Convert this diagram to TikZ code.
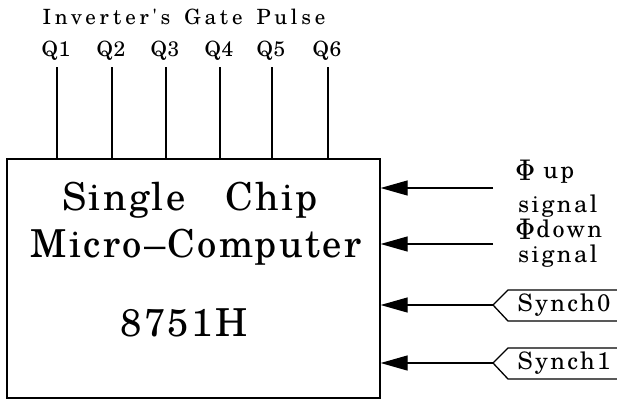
\documentclass[tikz,border=0pt]{standalone}
\usepackage{fontspec}
\usepackage{amsmath}
\usetikzlibrary{arrows.meta}
\newfontfamily\bigf[LetterSpace=6]{texgyreschola-regular.otf}
\newfontfamily\titlef[LetterSpace=18]{texgyreschola-regular.otf}
\newfontfamily\qf[LetterSpace=4]{texgyreschola-regular.otf}
\newfontfamily\smallf[LetterSpace=10]{texgyreschola-regular.otf}
\tikzset{
  wire/.style={line width=1.3pt},
  inarrow/.style={wire,-{Triangle[length=27pt,width=15pt]}},
  chiptext/.style={font=\bigf\fontsize{38.5}{44}\selectfont, inner sep=0pt},
  titlelbl/.style={font=\titlef\fontsize{21}{26}\selectfont, inner sep=0pt},
  qlbl/.style={font=\qf\fontsize{21}{26}\selectfont, inner sep=0pt},
  lbl/.style={font=\smallf\fontsize{24}{28}\selectfont, inner sep=0pt},
  chipbox/.style={draw, wire, minimum width=373pt, minimum height=239pt, inner sep=0pt},
}
\newcommand{\bigphi}{\raisebox{-2pt}{\scalebox{1.0}[1.2]{$\boldsymbol{\Phi}$}}}
\begin{document}
\begin{tikzpicture}[x=1pt,y=-1pt]
\useasboundingbox (0,0) rectangle (617,404);
\node[chipbox] (chip) at (193.5,278.5) {};
\node[chiptext] (t1) at (190,200) {Single\hspace{40pt}Chip};
\node[chiptext] (t2) at (196,247) {Micro\textendash Computer};
\node[chiptext] (t3) at (184,323) {8751H};
\node[titlelbl] (title) at (184,17) {Inverter's\hspace{14pt}Gate\hspace{14pt}Pulse};
\foreach \i/\x in {1/57,2/112,3/166,4/220,5/272,6/328}{
  \node[qlbl] (q\i) at (\x-1,51) {Q\i};
  \draw[wire] (\x,67) -- (\x,0 |- chip.north);
}
% phi inputs
\node[lbl, anchor=west] (phiup) at (515,172) {\bigphi\hspace{8pt}up};
\node[lbl, anchor=west] (sigup) at (518,206) {signal};
\node[lbl, anchor=west] (phidn) at (515,229) {\bigphi\hspace{1pt}down};
\node[lbl, anchor=west] (sigdn) at (518,256) {signal};
\coordinate (pu) at (493,188);
\coordinate (pd) at (493,244);
\draw[inarrow] (pu) -- (pu -| chip.east);
\draw[inarrow] (pd) -- (pd -| chip.east);
% synch inputs
\coordinate (s0) at (493,305);
\coordinate (s1) at (493,363);
\draw[wire] (617,290) -- (508,290) -- (s0) -- (508,321) -- (617,321);
\draw[wire] (617,348) -- (508,348) -- (s1) -- (508,379) -- (617,379);
\node[lbl] (sy0) at (564,305) {Synch0};
\node[lbl] (sy1) at (564,363) {Synch1};
\draw[inarrow] (s0) -- (s0 -| chip.east);
\draw[inarrow] (s1) -- (s1 -| chip.east);
\end{tikzpicture}
\end{document}
